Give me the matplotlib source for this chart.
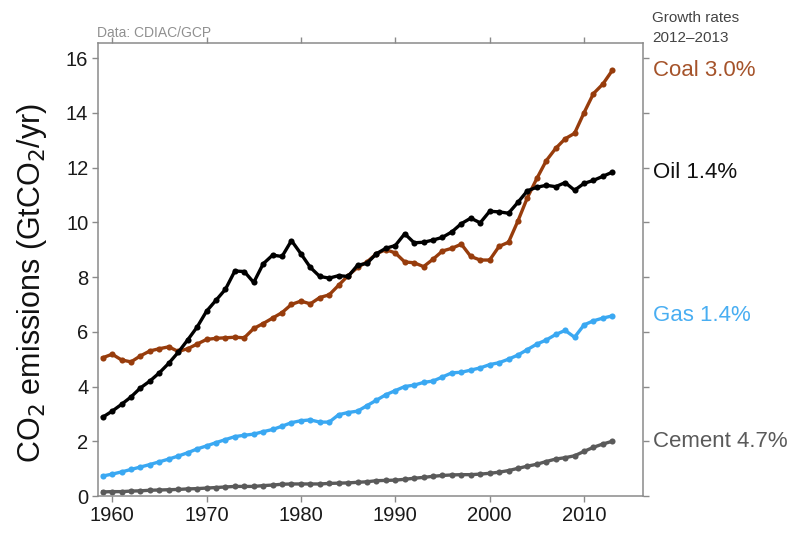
import numpy as np
import matplotlib
matplotlib.use("Agg")
import matplotlib.pyplot as plt

plt.rcParams['font.family'] = ['Liberation Sans', 'DejaVu Sans']

# Global fossil CO2 emissions by source, GtCO2/yr
years = list(range(1959, 2014))

coal = [5.05, 5.18, 4.97, 4.90, 5.12, 5.30, 5.38, 5.45, 5.28, 5.38,
        5.55, 5.72, 5.76, 5.78, 5.80, 5.78, 6.12, 6.30, 6.50, 6.70,
        7.00, 7.12, 7.02, 7.25, 7.35, 7.70, 8.05, 8.35, 8.55, 8.85,
        9.00, 8.88, 8.55, 8.52, 8.38, 8.65, 8.95, 9.05, 9.20, 8.75,
        8.62, 8.62, 9.12, 9.27, 10.05, 10.90, 11.60, 12.25, 12.70, 13.05,
        13.25, 14.00, 14.70, 15.05, 15.55]

oil = [2.88, 3.10, 3.35, 3.62, 3.95, 4.20, 4.50, 4.85, 5.25, 5.70,
       6.17, 6.75, 7.15, 7.55, 8.22, 8.20, 7.80, 8.48, 8.80, 8.75,
       9.33, 8.85, 8.35, 8.02, 7.96, 8.05, 8.02, 8.43, 8.50, 8.85,
       9.05, 9.15, 9.58, 9.25, 9.27, 9.35, 9.45, 9.65, 9.95, 10.15,
       9.98, 10.40, 10.38, 10.33, 10.73, 11.15, 11.28, 11.35, 11.30, 11.45,
       11.17, 11.42, 11.53, 11.68, 11.83]

gas = [0.73, 0.80, 0.88, 0.97, 1.06, 1.15, 1.25, 1.35, 1.46, 1.58,
       1.72, 1.83, 1.95, 2.06, 2.17, 2.22, 2.26, 2.35, 2.43, 2.55,
       2.68, 2.75, 2.78, 2.70, 2.70, 2.97, 3.05, 3.10, 3.30, 3.50,
       3.70, 3.85, 4.00, 4.05, 4.15, 4.20, 4.35, 4.50, 4.52, 4.60,
       4.68, 4.80, 4.87, 5.00, 5.15, 5.35, 5.55, 5.70, 5.90, 6.05,
       5.80, 6.25, 6.40, 6.50, 6.58]

cement = [0.15, 0.16, 0.16, 0.18, 0.19, 0.21, 0.22, 0.23, 0.24, 0.26,
          0.27, 0.29, 0.31, 0.33, 0.35, 0.35, 0.35, 0.38, 0.40, 0.43,
          0.44, 0.44, 0.44, 0.44, 0.46, 0.47, 0.48, 0.50, 0.52, 0.56,
          0.57, 0.58, 0.61, 0.65, 0.68, 0.72, 0.75, 0.77, 0.78, 0.78,
          0.80, 0.83, 0.87, 0.93, 1.01, 1.09, 1.16, 1.26, 1.35, 1.40,
          1.47, 1.63, 1.78, 1.90, 2.00]

fuels = ['Coal', 'Oil', 'Gas', 'Cement']
rates = ['3.0%', '1.4%', '1.4%', '4.7%']
series = [coal, oil, gas, cement]
lineColors = ['#973c0c', '#000000', '#3aa8f2', '#5a5a5a']
textColors = ['#a5532a', '#111111', '#49aef2', '#5a5a5a']

spineColor = '#8a8a8a'

fig = plt.figure(figsize=(7.91, 5.33), dpi=100)
ax = fig.add_axes([0.1239, 0.0694, 0.689, 0.85])

for vals, col in zip(series, lineColors):
    ax.plot(years, vals, '-o', color=col, lw=2.4, ms=4.4, mew=0)

ax.set_xlim(1958.5, 2016.25)
ax.set_ylim(0, 16.55)
ax.set_xticks([1960, 1970, 1980, 1990, 2000, 2010])
ax.set_yticks([0, 2, 4, 6, 8, 10, 12, 14, 16])

for sp in ax.spines.values():
    sp.set_color(spineColor)
    sp.set_linewidth(1.1)
ax.tick_params(direction='out', top=True, right=True, length=4, width=1,
               color=spineColor, labelsize=14.5, labelcolor='#1a1a1a', pad=3)

ax.set_ylabel('CO$_2$ emissions (GtCO$_2$/yr)', fontsize=22, color='#111111')
ax.yaxis.set_label_coords(-0.09, 0.47)

# end labels with growth rates, placed at the last value of each series
for name, rate, vals, col in zip(fuels, rates, series, textColors):
    ax.text(1.018, vals[-1], f'{name} {rate}', transform=ax.get_yaxis_transform(),
            fontsize=16, color=col, va='center', ha='left')

fig.text(0.824, 0.967, 'Growth rates', fontsize=11, color='#444444', va='center', ha='left')
fig.text(0.824, 0.929, '2012\u20132013', fontsize=11, color='#444444', va='center', ha='left')
fig.text(0.123, 0.938, 'Data: CDIAC/GCP', fontsize=10, color='#909090', va='center', ha='left')

fig.savefig('out.png', dpi=100)
